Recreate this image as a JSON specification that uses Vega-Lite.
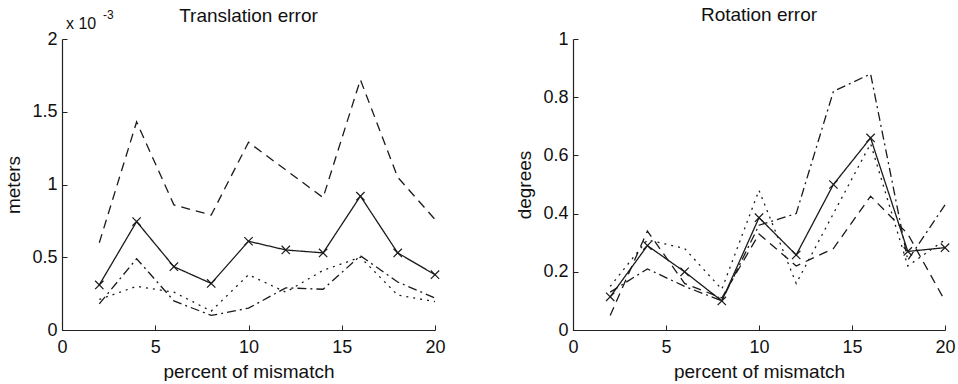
{
  "$schema": "https://vega.github.io/schema/vega-lite/v6.json",
  "background": "white",
  "padding": {"left": 4, "top": 6, "right": 5, "bottom": 0},
  "spacing": 69,
  "config": {
    "view": {"stroke": null},
    "font": "Liberation Sans",
    "axis": {
      "grid": false,
      "domainColor": "#222",
      "domainWidth": 1.2,
      "tickColor": "#222",
      "tickSize": -5,
      "tickWidth": 1,
      "labelPadding": 10,
      "labelColor": "#111",
      "labelFont": "Liberation Sans",
      "labelFontSize": 18,
      "labelFlush": false,
      "labelOverlap": false,
      "format": "~g",
      "titleFont": "Liberation Sans",
      "titleFontSize": 19,
      "titleFontWeight": "normal",
      "titleColor": "#111"
    },
    "axisX": {"titlePadding": 6, "labelPadding": 13},
    "axisY": {"titlePadding": 8},
    "title": {"font": "Liberation Sans", "fontSize": 19, "fontWeight": "normal", "color": "#111", "offset": 5}
  },
  "datasets": {
    "trans": [
      {"pct": 2, "err": 0.31, "style": "solid"}, {"pct": 4, "err": 0.745, "style": "solid"}, {"pct": 6, "err": 0.435, "style": "solid"}, {"pct": 8, "err": 0.32, "style": "solid"}, {"pct": 10, "err": 0.61, "style": "solid"}, {"pct": 12, "err": 0.55, "style": "solid"}, {"pct": 14, "err": 0.53, "style": "solid"}, {"pct": 16, "err": 0.92, "style": "solid"}, {"pct": 18, "err": 0.53, "style": "solid"}, {"pct": 20, "err": 0.38, "style": "solid"},
      {"pct": 2, "err": 0.6, "style": "dashed"}, {"pct": 4, "err": 1.43, "style": "dashed"}, {"pct": 6, "err": 0.86, "style": "dashed"}, {"pct": 8, "err": 0.79, "style": "dashed"}, {"pct": 10, "err": 1.29, "style": "dashed"}, {"pct": 12, "err": 1.1, "style": "dashed"}, {"pct": 14, "err": 0.91, "style": "dashed"}, {"pct": 16, "err": 1.72, "style": "dashed"}, {"pct": 18, "err": 1.05, "style": "dashed"}, {"pct": 20, "err": 0.76, "style": "dashed"},
      {"pct": 2, "err": 0.18, "style": "dashdot"}, {"pct": 4, "err": 0.49, "style": "dashdot"}, {"pct": 6, "err": 0.2, "style": "dashdot"}, {"pct": 8, "err": 0.1, "style": "dashdot"}, {"pct": 10, "err": 0.15, "style": "dashdot"}, {"pct": 12, "err": 0.29, "style": "dashdot"}, {"pct": 14, "err": 0.28, "style": "dashdot"}, {"pct": 16, "err": 0.51, "style": "dashdot"}, {"pct": 18, "err": 0.33, "style": "dashdot"}, {"pct": 20, "err": 0.22, "style": "dashdot"},
      {"pct": 2, "err": 0.21, "style": "dotted"}, {"pct": 4, "err": 0.3, "style": "dotted"}, {"pct": 6, "err": 0.26, "style": "dotted"}, {"pct": 8, "err": 0.13, "style": "dotted"}, {"pct": 10, "err": 0.38, "style": "dotted"}, {"pct": 12, "err": 0.26, "style": "dotted"}, {"pct": 14, "err": 0.41, "style": "dotted"}, {"pct": 16, "err": 0.5, "style": "dotted"}, {"pct": 18, "err": 0.24, "style": "dotted"}, {"pct": 20, "err": 0.195, "style": "dotted"}
    ],
    "rot": [
      {"pct": 2, "err": 0.114, "style": "solid"}, {"pct": 4, "err": 0.29, "style": "solid"}, {"pct": 6, "err": 0.2, "style": "solid"}, {"pct": 8, "err": 0.1, "style": "solid"}, {"pct": 10, "err": 0.386, "style": "solid"}, {"pct": 12, "err": 0.258, "style": "solid"}, {"pct": 14, "err": 0.5, "style": "solid"}, {"pct": 16, "err": 0.66, "style": "solid"}, {"pct": 18, "err": 0.27, "style": "solid"}, {"pct": 20, "err": 0.283, "style": "solid"},
      {"pct": 2, "err": 0.05, "style": "dashed"}, {"pct": 4, "err": 0.34, "style": "dashed"}, {"pct": 6, "err": 0.16, "style": "dashed"}, {"pct": 8, "err": 0.11, "style": "dashed"}, {"pct": 10, "err": 0.33, "style": "dashed"}, {"pct": 12, "err": 0.22, "style": "dashed"}, {"pct": 14, "err": 0.28, "style": "dashed"}, {"pct": 16, "err": 0.46, "style": "dashed"}, {"pct": 18, "err": 0.33, "style": "dashed"}, {"pct": 20, "err": 0.1, "style": "dashed"},
      {"pct": 2, "err": 0.13, "style": "dashdot"}, {"pct": 4, "err": 0.21, "style": "dashdot"}, {"pct": 6, "err": 0.15, "style": "dashdot"}, {"pct": 8, "err": 0.1, "style": "dashdot"}, {"pct": 10, "err": 0.36, "style": "dashdot"}, {"pct": 12, "err": 0.4, "style": "dashdot"}, {"pct": 14, "err": 0.82, "style": "dashdot"}, {"pct": 16, "err": 0.88, "style": "dashdot"}, {"pct": 18, "err": 0.24, "style": "dashdot"}, {"pct": 20, "err": 0.43, "style": "dashdot"},
      {"pct": 2, "err": 0.15, "style": "dotted"}, {"pct": 4, "err": 0.31, "style": "dotted"}, {"pct": 6, "err": 0.28, "style": "dotted"}, {"pct": 8, "err": 0.14, "style": "dotted"}, {"pct": 10, "err": 0.48, "style": "dotted"}, {"pct": 12, "err": 0.16, "style": "dotted"}, {"pct": 14, "err": 0.4, "style": "dotted"}, {"pct": 16, "err": 0.64, "style": "dotted"}, {"pct": 18, "err": 0.22, "style": "dotted"}, {"pct": 20, "err": 0.31, "style": "dotted"}
    ]
  },
  "hconcat": [
    {
      "width": 373,
      "height": 291,
      "title": {"text": "Translation error", "offset": -17},
      "layer": [
        {
          "data": {"name": "trans"},
          "mark": {"type": "line", "color": "#1a1a1a", "strokeWidth": 1.3},
          "encoding": {
            "x": {"field": "pct", "type": "quantitative", "scale": {"domain": [0, 20], "nice": false}, "axis": {"values": [0, 5, 10, 15, 20], "title": "percent of mismatch"}},
            "y": {"field": "err", "type": "quantitative", "scale": {"domain": [0, 2], "nice": false}, "axis": {"values": [0, 0.5, 1, 1.5, 2], "title": "meters"}},
            "strokeDash": {"field": "style", "type": "nominal", "scale": {"domain": ["solid", "dashed", "dashdot", "dotted"], "range": [[1, 0], [9, 6], [9, 4, 2, 4], [2, 5]]}, "legend": null}
          }
        },
        {
          "data": {"name": "trans"},
          "transform": [{"filter": "datum.style === 'solid'"}],
          "mark": {"type": "point", "shape": "M-1,-1L1,1M-1,1L1,-1", "filled": false, "size": 70, "color": "#1a1a1a", "strokeWidth": 1.2, "opacity": 1},
          "encoding": {
            "x": {"field": "pct", "type": "quantitative"},
            "y": {"field": "err", "type": "quantitative"}
          }
        },
        {
          "data": {"values": [{"note": "x 10"}]},
          "mark": {"type": "text", "align": "left", "baseline": "middle", "fontSize": 16, "dx": 4, "dy": -15, "color": "#111"},
          "encoding": {"x": {"datum": 0}, "y": {"datum": 2}, "text": {"field": "note"}}
        },
        {
          "data": {"values": [{"note": "-3"}]},
          "mark": {"type": "text", "align": "left", "baseline": "middle", "fontSize": 12, "dx": 41, "dy": -24, "color": "#111"},
          "encoding": {"x": {"datum": 0}, "y": {"datum": 2}, "text": {"field": "note"}}
        }
      ]
    },
    {
      "width": 372,
      "height": 291,
      "title": "Rotation error",
      "layer": [
        {
          "data": {"name": "rot"},
          "mark": {"type": "line", "color": "#1a1a1a", "strokeWidth": 1.3},
          "encoding": {
            "x": {"field": "pct", "type": "quantitative", "scale": {"domain": [0, 20], "nice": false}, "axis": {"values": [0, 5, 10, 15, 20], "title": "percent of mismatch"}},
            "y": {"field": "err", "type": "quantitative", "scale": {"domain": [0, 1], "nice": false}, "axis": {"values": [0, 0.2, 0.4, 0.6, 0.8, 1], "title": "degrees"}},
            "strokeDash": {"field": "style", "type": "nominal", "scale": {"domain": ["solid", "dashed", "dashdot", "dotted"], "range": [[1, 0], [9, 6], [9, 4, 2, 4], [2, 5]]}, "legend": null}
          }
        },
        {
          "data": {"name": "rot"},
          "transform": [{"filter": "datum.style === 'solid'"}],
          "mark": {"type": "point", "shape": "M-1,-1L1,1M-1,1L1,-1", "filled": false, "size": 70, "color": "#1a1a1a", "strokeWidth": 1.2, "opacity": 1},
          "encoding": {
            "x": {"field": "pct", "type": "quantitative"},
            "y": {"field": "err", "type": "quantitative"}
          }
        }
      ]
    }
  ]
}
